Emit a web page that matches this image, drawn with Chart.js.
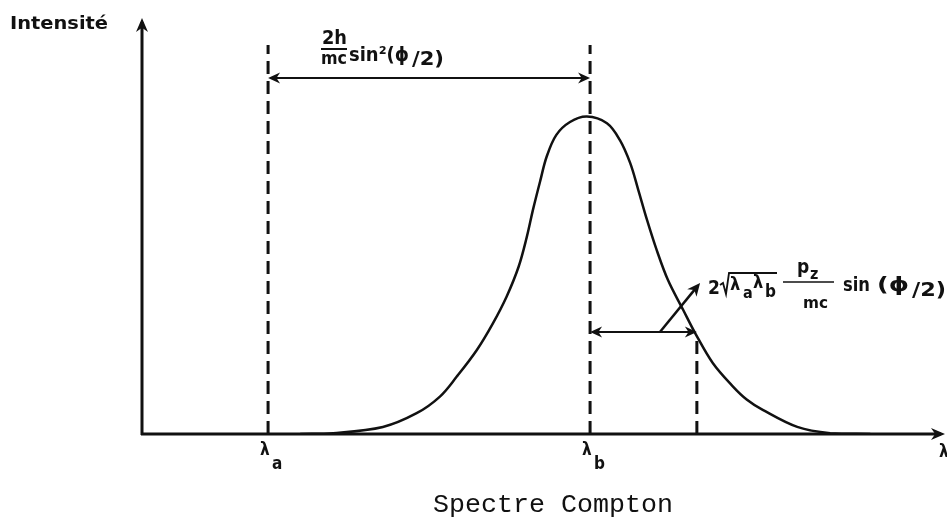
<!DOCTYPE html>
<html>
<head>
<meta charset="utf-8">
<script src="https://cdn.jsdelivr.net/npm/chart.js@4/dist/chart.umd.min.js"></script>
<style>
  html, body { margin: 0; padding: 0; background: #fff; }
  #wrap { width: 947px; height: 520px; }
</style>
</head>
<body>
<div id="wrap"><canvas id="spectre" width="947" height="520"></canvas></div>
<script>
// profil Compton (unités arbitraires)
const lambdaX = [19.7, 23.8, 30.0, 34.2, 37.1, 39.2, 41.7, 43.7, 45.4, 46.9, 47.9, 48.7, 49.6, 50.4, 51.6, 53.3, 55.4,
  57.9, 59.5, 60.8, 61.8, 62.9, 64.1, 65.5, 67.4, 68.9, 71.1, 73.6, 75.3, 77.3, 81.6, 85.7, 90.7];
const intensity = [0, 0.2, 1.7, 5.0, 9.0, 13.8, 20.2, 26.6, 33.0, 40.2, 47.2, 54.0, 60.9, 66.7, 71.9, 75.0, 76.3,
  74.7, 70.7, 65.1, 58.7, 51.4, 44.2, 37.0, 29.8, 24.2, 17.0, 11.4, 8.3, 5.8, 1.7, 0.2, 0];

// lignes pointillées : λa, λb et la demi-largeur
const markerX = [15.7, 55.8, 69.1];
const markerTop = [93.5, 93.5, 23.8];
const markerLabels = ['a', 'b', null];

// cotes (flèches)
const shiftArrowY = 85.6;
const widthArrowY = 24.5;
const pointerFrom = [64.5, 24.5];
const pointerTo = [69.5, 36.3];

const black = '#111';
const F = '"DejaVu Sans Condensed", "DejaVu Sans", sans-serif';

function head(ctx, x, y, a, len, w) {
  len = len || 12; w = w || 5.5;
  const c = Math.cos(a), s = Math.sin(a);
  ctx.beginPath();
  ctx.moveTo(x, y);
  ctx.lineTo(x - len * c + w * s, y - len * s - w * c);
  ctx.lineTo(x - len * c * 0.7, y - len * s * 0.7);
  ctx.lineTo(x - len * c - w * s, y - len * s + w * c);
  ctx.closePath();
  ctx.fill();
}

function line(ctx, x1, y1, x2, y2, w) {
  ctx.lineWidth = w || 2;
  ctx.beginPath();
  ctx.moveTo(x1, y1);
  ctx.lineTo(x2, y2);
  ctx.stroke();
}

// texte étiré pour occuper la largeur
function fit(ctx, s, x, y, width, font, align) {
  ctx.font = font;
  const k = width / ctx.measureText(s).width;
  ctx.save();
  ctx.translate(x, y);
  ctx.scale(k, 1);
  ctx.textAlign = align || 'left';
  ctx.fillText(s, 0, 0);
  ctx.restore();
}

function txt(ctx, s, x, y, size) {
  ctx.font = 'bold ' + size + 'px ' + F;
  ctx.textAlign = 'left';
  ctx.fillText(s, x, y);
}

const B = size => 'bold ' + size + 'px ' + F;

const annotations = {
  id: 'annotations',
  afterDraw(chart) {
    const ctx = chart.ctx;
    const xs = chart.scales.x, ys = chart.scales.y;
    const area = chart.chartArea;
    const px = v => xs.getPixelForValue(v);
    const py = v => ys.getPixelForValue(v);
    ctx.save();
    ctx.fillStyle = black;
    ctx.strokeStyle = black;
    ctx.textBaseline = 'alphabetic';

    // flèches des axes
    line(ctx, area.left, area.bottom + 1, area.left, area.top + 4, 3);
    head(ctx, area.left, area.top, -Math.PI / 2, 14, 6);
    line(ctx, area.left - 1, area.bottom, area.right - 4, area.bottom, 3);
    head(ctx, area.right, area.bottom, 0, 14, 6);

    // cote λb - λa
    const yA = py(shiftArrowY);
    line(ctx, px(markerX[0]) + 4, yA, px(markerX[1]) - 4, yA, 2);
    head(ctx, px(markerX[0]), yA, Math.PI);
    head(ctx, px(markerX[1]), yA, 0);

    // demi-largeur
    const yW = py(widthArrowY);
    line(ctx, px(markerX[1]) + 4, yW, px(markerX[2]) - 4, yW, 2);
    head(ctx, px(markerX[1]), yW, Math.PI);
    head(ctx, px(markerX[2]), yW, 0);

    // flèche oblique vers la formule
    const x1 = px(pointerFrom[0]), y1 = py(pointerFrom[1]);
    const x2 = px(pointerTo[0]), y2 = py(pointerTo[1]);
    const ang = Math.atan2(y2 - y1, x2 - x1);
    line(ctx, x1, y1, x2 - 6 * Math.cos(ang), y2 - 6 * Math.sin(ang), 2.5);
    head(ctx, x2, y2, ang, 13, 6);

    // étiquettes λa, λb
    markerX.forEach((m, i) => {
      if (!markerLabels[i]) return;
      const x = px(m);
      txt(ctx, 'λ', x - 8, area.bottom + 21, 17);
      txt(ctx, markerLabels[i], x + 4, area.bottom + 35, 17);
    });
    txt(ctx, 'λ', area.right - 6, area.bottom + 23, 17);

    // Intensité
    fit(ctx, 'Intensité', 10, 29, 98, B(17));

    // 2h/mc sin²(ϕ/2)
    fit(ctx, '2h', 322, 44, 25, B(20));
    line(ctx, 321, 49, 347, 49, 2);
    fit(ctx, 'mc', 321, 64, 26, B(17));
    fit(ctx, 'sin²(ϕ', 349, 61, 60, B(20));
    fit(ctx, '/2)', 412, 65, 32, B(20));

    // 2√(λaλb) pz/mc sin(ϕ/2)
    txt(ctx, '2', 708, 294, 19);
    ctx.lineWidth = 1.8;
    ctx.beginPath();
    ctx.moveTo(720, 285); ctx.lineTo(723, 283); ctx.lineTo(726, 294); ctx.lineTo(729, 273); ctx.lineTo(777, 273);
    ctx.stroke();
    txt(ctx, 'λ', 730, 290, 18);
    txt(ctx, 'a', 743, 298, 16);
    txt(ctx, 'λ', 753, 288, 18);
    txt(ctx, 'b', 765, 297, 17);
    txt(ctx, 'p', 797, 273, 19);
    txt(ctx, 'z', 810, 279, 16);
    line(ctx, 783, 282, 834, 282, 1.4);
    fit(ctx, 'mc', 803, 308, 25, B(16));
    fit(ctx, 'sin', 843, 291, 27, B(19));
    fit(ctx, '(ϕ', 877, 291, 32, B(20));
    fit(ctx, '/2)', 912, 296, 34, B(20));

    // titre
    fit(ctx, 'Spectre Compton', 553, 512, 240, '25px "Liberation Mono", "DejaVu Sans Mono", monospace', 'center');

    ctx.restore();
  }
};

const curve = lambdaX.map((v, i) => ({ x: v, y: intensity[i] }));
const dashed = markerX.map((m, i) => ({
  data: [{ x: m, y: 0 }, { x: m, y: markerTop[i] }],
  borderColor: black,
  borderWidth: 3,
  borderDash: [13, 7],
  pointRadius: 0,
  showLine: true
}));

new Chart(document.getElementById('spectre'), {
  type: 'scatter',
  data: {
    datasets: [{
      label: 'Spectre Compton',
      data: curve,
      showLine: true,
      borderColor: black,
      borderWidth: 2.5,
      pointRadius: 0,
      tension: 0.35
    }].concat(dashed)
  },
  options: {
    responsive: false,
    animation: false,
    devicePixelRatio: 1,
    layout: { padding: { left: 142, top: 18, right: 2, bottom: 86 } },
    plugins: {
      legend: { display: false },
      tooltip: { enabled: false }
    },
    scales: {
      x: {
        type: 'linear', min: 0, max: 100,
        grid: { display: false, drawTicks: false },
        border: { display: false },
        ticks: { display: false },
        afterFit: s => { s.height = 0; }
      },
      y: {
        type: 'linear', min: 0, max: 100,
        grid: { display: false, drawTicks: false },
        border: { display: false },
        ticks: { display: false },
        afterFit: s => { s.width = 0; }
      }
    }
  },
  plugins: [annotations]
});
</script>
</body>
</html>
